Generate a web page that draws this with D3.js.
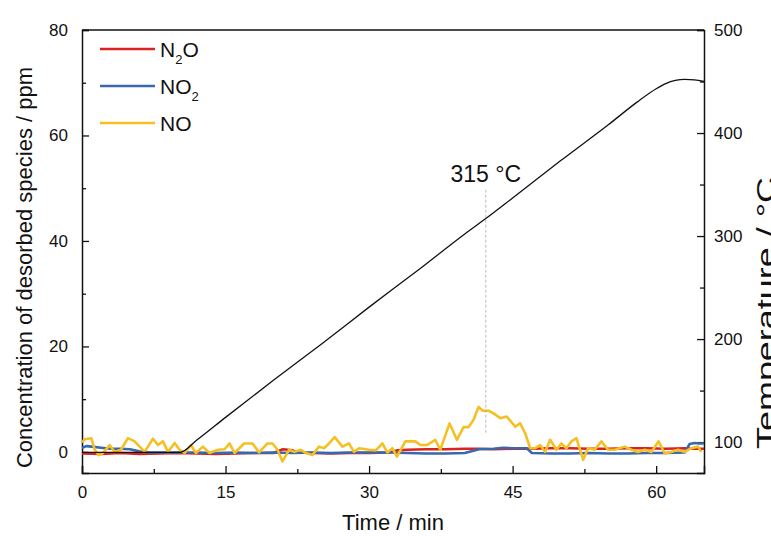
<!DOCTYPE html>
<html>
<head>
<meta charset="utf-8">
<script src="https://cdn.jsdelivr.net/npm/d3@7/dist/d3.min.js"></script>
<style>
  body { margin: 0; background: #fff; }
  text { font-family: "Liberation Sans", Arial, sans-serif; fill: #111; }
</style>
</head>
<body>
<div id="chart"></div>
<script>
// time (min) / concentration (ppm) pairs
const noTime = [0, 0.28, 0.97, 1.33, 1.74, 2.19, 2.89, 3.41, 4.07, 4.8, 5.5, 6.54, 7.41, 7.93, 8.46, 8.98, 9.68, 10.2, 10.72, 11.38, 11.9, 12.63, 13.33, 14.2, 14.9, 15.42, 15.94, 16.94, 17.82, 18.51, 19.38, 19.91, 20.43, 20.95, 21.64, 22.16, 22.86, 23.38, 24.08, 24.77, 25.29, 25.81, 26.41, 27.21, 27.9, 28.42, 28.95, 29.99, 30.69, 31.39, 31.91, 32.43, 32.91, 33.79, 34.83, 35.36, 36.04, 36.92, 37.44, 38.41, 39.18, 39.87, 40.4, 40.92, 41.44, 41.89, 42.48, 43.01, 43.71, 44.39, 45.27, 45.79, 46.32, 46.84, 47.36, 47.88, 48.4, 48.92, 49.58, 50.1, 50.63, 51.15, 51.67, 52.37, 52.89, 53.58, 54.28, 54.98, 55.67, 56.71, 57.41, 58.11, 58.8, 59.5, 60.26, 60.89, 61.59, 62.29, 62.98, 63.67, 64.37, 64.72];
const noValues = [1.8, 2.4, 2.6, 0.4, -0.6, -0.2, 1.3, 0, 0.4, 2.6, 2.0, 0, 2.5, 1.3, 2.0, 0, 1.7, 0.4, -0.2, 1.3, -0.2, 1.0, -0.2, 0.4, 0.5, 1.6, -0.2, 1.6, 1.6, -0.1, 1.6, 1.6, 0.4, -1.8, 0.4, 0, 0.4, -0.2, -0.6, 1.0, 0.7, 1.6, 2.8, 1.0, 1.6, 0, 0.7, 0.4, 0.3, 1.6, -0.1, 0.7, -0.9, 2.0, 2.0, 1.3, 1.3, 2.3, 0.4, 5.4, 2.3, 4.7, 4.7, 6.1, 8.5, 7.8, 7.8, 7.3, 6.4, 6.7, 4.8, 5.4, 3.5, 0.7, 0.7, 1.3, 0, 2.3, 0.4, 1.6, 0.7, 2.0, 2.6, -1.5, 0.7, 0.4, 2.0, 0.4, 0.4, 1.0, 0.4, 0, 0.4, 0, 2.0, -0.3, 0, 0.4, 0, 0.7, 1.0, 0];

const n2oTime = [0, 2, 4, 6, 8, 10, 12, 14, 16, 18, 20, 21, 22, 22.5, 24, 26, 28, 30, 32, 33, 34, 36, 38, 40, 41.5, 43, 45, 46.5, 47, 49, 51, 53, 55, 57, 59, 61, 63, 64, 65];
const n2oValues = [-0.3, -0.4, -0.2, -0.4, -0.3, -0.2, -0.3, -0.4, -0.3, -0.2, -0.2, 0.5, 0.3, -0.1, -0.2, -0.3, -0.2, -0.2, -0.1, 0.3, 0.4, 0.5, 0.5, 0.6, 0.6, 0.5, 0.6, 0.6, 0.6, 0.7, 0.7, 0.6, 0.6, 0.7, 0.7, 0.6, 0.7, 0.6, 0.6];

const no2Time = [0, 0.5, 1, 2, 3, 4, 5, 6, 7, 8, 10, 12, 14, 16, 18, 20, 22, 24, 26, 28, 30, 32, 34, 36, 38, 40, 41.5, 43, 44, 45, 46.5, 47, 49, 51, 53, 55, 57, 59, 61, 63, 63.5, 64, 64.5, 65];
const no2Values = [0.8, 1.1, 1.0, 0.8, 0.6, 0.6, 0.5, 0.1, -0.1, -0.1, -0.1, -0.1, -0.2, -0.1, -0.2, -0.1, -0.2, -0.1, -0.2, -0.1, -0.1, -0.1, -0.2, -0.3, -0.3, -0.2, 0.5, 0.6, 0.8, 0.7, 0.7, -0.2, -0.3, -0.3, -0.2, -0.3, -0.3, -0.2, -0.2, -0.1, 1.5, 1.7, 1.6, 1.6];

// temperature (°C) on the right axis
const tempTime = [0, 5, 10.2, 12, 15, 20, 25, 30, 35, 40, 42.2, 45, 50, 55, 58, 60, 61, 62, 63, 64, 65];
const tempValues = [90, 90, 90, 102, 124, 160, 195, 231, 266, 302, 317, 337, 373, 408, 430, 443, 448, 451, 452, 451.5, 450];

const xTicks = [0, 15, 30, 45, 60];
const yLeftTicks = [0, 20, 40, 60, 80];
const yRightTicks = [100, 200, 300, 400, 500];

const marker = { time: 42.2, label: "315 °C", topTemp: 345, bottomPpm: 3.6 };

const series = [
    { name: "N2O", sub: ["N", "2", "O"], time: n2oTime, values: n2oValues, color: "#d9231f" },
    { name: "NO2", sub: ["NO", "2", ""], time: no2Time, values: no2Values, color: "#3a68ad" },
    { name: "NO", sub: ["NO", "", ""], time: noTime, values: noValues, color: "#f4c023" }
];

const W = 771, H = 536;
const margin = { top: 30, right: 67, bottom: 63, left: 82 };
const width = W - margin.left - margin.right;
const height = H - margin.top - margin.bottom;

const svg = d3.select("#chart").append("svg")
    .attr("width", W)
    .attr("height", H);

const g = svg.append("g")
    .attr("transform", `translate(${margin.left},${margin.top})`);

const x = d3.scaleLinear().domain([0, 65]).range([0, width]);
const y = d3.scaleLinear().domain([-4, 80]).range([height, 0]);
const yT = d3.scaleLinear().domain([70, 500]).range([height, 0]);

// minor ticks first, then major ticks with labels
g.append("g")
    .attr("transform", `translate(0,${height})`)
    .call(d3.axisBottom(x).tickValues([7.5, 22.5, 37.5, 52.5]).tickSize(-4).tickFormat(""))
    .call(a => a.select(".domain").remove());
g.append("g")
    .attr("transform", `translate(0,${height})`)
    .call(d3.axisBottom(x).tickValues(xTicks).tickSize(-7).tickPadding(13));

g.append("g")
    .call(d3.axisLeft(y).tickValues([10, 30, 50, 70]).tickSize(-4).tickFormat(""))
    .call(a => a.select(".domain").remove());
g.append("g")
    .call(d3.axisLeft(y).tickValues(yLeftTicks).tickSize(-7).tickPadding(14));

g.append("g")
    .attr("transform", `translate(${width},0)`)
    .call(d3.axisRight(yT).tickValues([150, 250, 350, 450]).tickSize(-4).tickFormat(""))
    .call(a => a.select(".domain").remove());
g.append("g")
    .attr("transform", `translate(${width},0)`)
    .call(d3.axisRight(yT).tickValues(yRightTicks).tickSize(-7).tickPadding(10));

g.selectAll(".tick line").attr("stroke", "#111").attr("stroke-width", 1.3);
g.selectAll(".domain").attr("stroke", "#111").attr("stroke-width", 1.5);
g.selectAll(".tick text").attr("font-size", 17).attr("fill", "#111")
    .attr("font-family", "Liberation Sans, Arial, sans-serif");

// top border
g.append("line")
    .attr("x1", 0).attr("x2", width)
    .attr("y1", 0).attr("y2", 0)
    .attr("stroke", "#111").attr("stroke-width", 1.5);

const line = d3.line()
    .x(d => x(d[0]))
    .y(d => y(d[1]));

series.forEach(s => {
    g.append("path")
        .datum(s.time.map((t, i) => [t, s.values[i]]))
        .attr("fill", "none")
        .attr("stroke", s.color)
        .attr("stroke-width", 2.6)
        .attr("stroke-linejoin", "round")
        .attr("d", line);
});

const tempLine = d3.line()
    .curve(d3.curveMonotoneX)
    .x(d => x(d[0]))
    .y(d => yT(d[1]));

g.append("path")
    .datum(tempTime.map((t, i) => [t, tempValues[i]]))
    .attr("fill", "none")
    .attr("stroke", "#111")
    .attr("stroke-width", 1.3)
    .attr("d", tempLine);

// 315 °C marker
g.append("line")
    .attr("x1", x(marker.time)).attr("x2", x(marker.time))
    .attr("y1", yT(marker.topTemp)).attr("y2", y(marker.bottomPpm))
    .attr("stroke", "#aaa")
    .attr("stroke-width", 0.8)
    .attr("stroke-dasharray", "3,2");

g.append("text")
    .attr("x", x(marker.time))
    .attr("y", yT(marker.topTemp) - 8)
    .attr("text-anchor", "middle")
    .attr("font-size", 23)
    .text(marker.label);

// legend
const legend = g.append("g").attr("transform", "translate(18,19)");
series.forEach((s, i) => {
    const row = legend.append("g").attr("transform", `translate(0,${i * 37})`);
    row.append("line")
        .attr("x1", 0).attr("x2", 55)
        .attr("stroke", s.color)
        .attr("stroke-width", 2.6);
    const t = row.append("text")
        .attr("x", 60)
        .attr("y", 8)
        .attr("font-size", 21);
    t.append("tspan").text(s.sub[0]);
    if (s.sub[1]) {
        t.append("tspan").attr("font-size", 13).attr("dy", 7).text(s.sub[1]);
        t.append("tspan").attr("dy", -7).text(s.sub[2]);
    }
});

// axis titles
svg.append("text")
    .attr("x", margin.left + width / 2)
    .attr("y", 530)
    .attr("text-anchor", "middle")
    .attr("font-size", 22)
    .text("Time / min");

svg.append("text")
    .attr("transform", `translate(32,${margin.top + height / 2 + 16}) rotate(-90)`)
    .attr("text-anchor", "middle")
    .attr("font-size", 22)
    .text("Concentration of desorbed species / ppm");

// right title is cut by the image edge, as in the original figure
svg.append("text")
    .attr("transform", "translate(775,313) rotate(-90)")
    .attr("text-anchor", "middle")
    .attr("font-size", 25)
    .attr("textLength", 272)
    .attr("lengthAdjust", "spacingAndGlyphs")
    .text("Temperature / °C");
</script>
</body>
</html>
